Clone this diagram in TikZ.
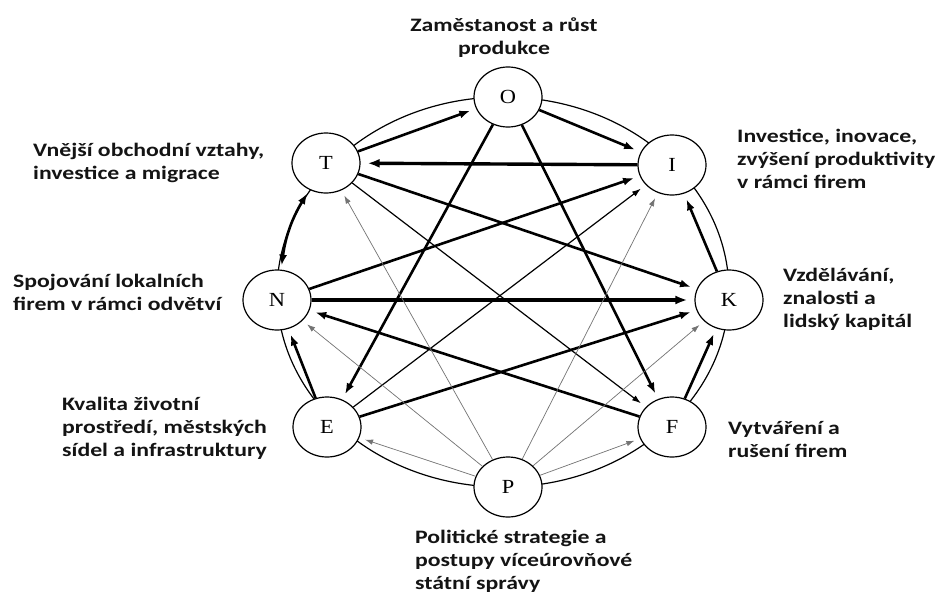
\documentclass[tikz,border=0pt]{standalone}
\usepackage{fontspec}
\usetikzlibrary{shapes.geometric,arrows.meta}
\newfontfamily\labelfont{Carlito}[FakeStretch=1.25]
\newfontfamily\letterfont{Liberation Serif}[FakeStretch=1.12]
\definecolor{ink}{HTML}{141414}
\tikzset{
  ring/.style={line width=1.2pt, draw=black},
  st/.style={ellipse, draw, line width=1.2pt, fill=white, minimum width=68pt,
    minimum height=60pt, inner sep=0pt, font=\letterfont\fontsize{20}{20}\selectfont},
  lbl/.style={inner sep=0pt, text=ink, align=left,
    font=\labelfont\bfseries\fontsize{19}{23}\selectfont},
  wA/.style={line width=3.4pt, -{Latex[length=12pt,width=9pt]}, shorten >=7pt},
  wB/.style={line width=2.6pt, -{Latex[length=11pt,width=8pt]}, shorten >=6pt},
  wC/.style={line width=1.2pt, -{Latex[length=9pt,width=6pt]}, shorten >=6pt},
  wD/.style={line width=0.7pt, draw=black!55, -{Latex[length=8pt,width=5.5pt]}, shorten >=6pt}
}
\begin{document}
\begin{tikzpicture}[x=1pt, y=-1pt]
\useasboundingbox (0,0) rectangle (939,594);
\fill[white] (0,0) rectangle (939,594);

% outer ring linking the eight factors
\draw[ring] (503,292) ellipse [x radius=226pt, y radius=195pt];

% factor nodes
\node[st] (O) at (508,97) {O};
\node[st] (I) at (672,165) {I};
\node[st] (K) at (729,300) {K};
\node[st] (F) at (672,427) {F};
\node[st] (P) at (508,487) {P};
\node[st] (E) at (327,427) {E};
\node[st] (N) at (277,300) {N};
\node[st] (T) at (326,163) {T};

% heaviest links
\draw[wA] (I) -- (T);
\draw[wA] (N) -- (K);

% strong links
\draw[wB] (T) -- (O);
\draw[wB] (O) -- (I);
\draw[wB] (T) -- (K);
\draw[wB] (N) -- (I);
\draw[wB] (F) -- (N);
\draw[wB] (E) -- (K);
\draw[wB] (O) -- (E);
\draw[wB] (O) -- (F);
\draw[wB] (E) -- (N);
\draw[wB] (F) -- (K);
\draw[wB] (K) -- (I);
\draw[wB, {Latex[length=11pt,width=8pt]}-{Latex[length=11pt,width=8pt]}, shorten <=4pt, shorten >=4pt]
  (T) to[bend right=12] (N);

% medium links
\draw[wC] (T) -- (F);
\draw[wC] (E) -- (I);

% weak links from policy
\draw[wD] (P) -- (T);
\draw[wD] (P) -- (I);
\draw[wD] (P) -- (N);
\draw[wD] (P) -- (K);
\draw[wD] (P) -- (E);
\draw[wD] (P) -- (F);

% captions
\node[lbl, align=center] (lO) at (504,37.5) {Zaměstanost a růst\\produkce};
\node[lbl, anchor=west] (lT) at (33,162.5) {Vnější obchodní vztahy,\\investice a migrace};
\node[lbl, anchor=west] (lN) at (13,292.5) {Spojování lokalních\\firem v rámci odvětví};
\node[lbl, anchor=west] (lE) at (62,428) {Kvalita životní\\prostředí, městských\\sídel a infrastruktury};
\node[lbl, anchor=west] (lI) at (737,158.5) {Investice, inovace,\\zvýšení produktivity\\v rámci firem};
\node[lbl, anchor=west] (lK) at (783,299.5) {Vzdělávání,\\znalosti a\\lidský kapitál};
\node[lbl, anchor=west] (lF) at (728,440) {Vytváření a\\rušení firem};
\node[lbl, anchor=west] (lP) at (415,561) {Politické strategie a\\postupy víceúrovňové\\státní správy};
\end{tikzpicture}
\end{document}
